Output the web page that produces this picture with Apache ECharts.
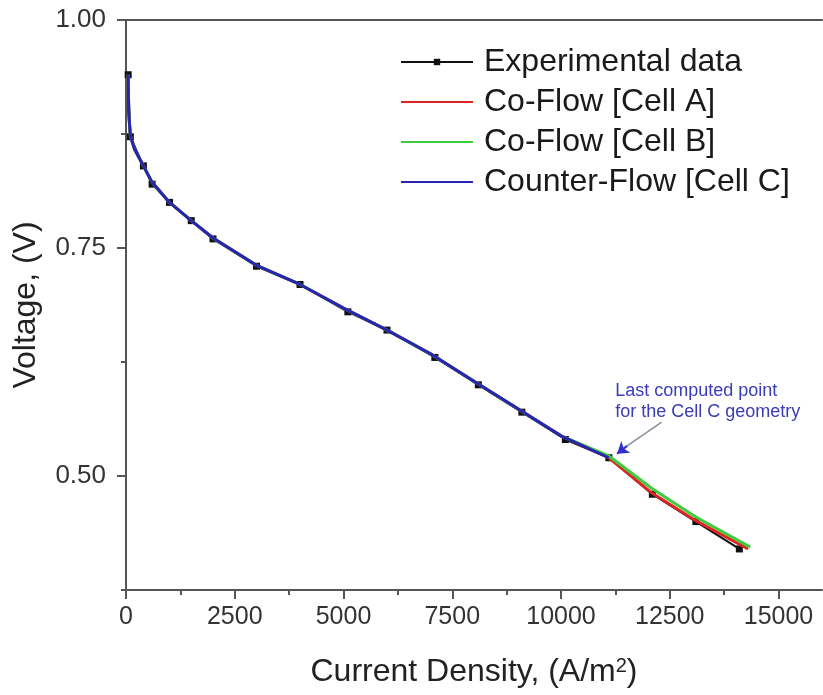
<!DOCTYPE html>
<html><head><meta charset="utf-8">
<script src="https://cdn.jsdelivr.net/npm/echarts@6/dist/echarts.min.js"></script>
<style>html,body{margin:0;padding:0;background:#fff}#c{width:823px;height:695px}</style>
</head><body><div id="c"></div>
<script>
// ---- data ----
const expX  = [50, 100, 400, 600, 1000, 1500, 2000, 3000, 4000, 5100, 6000, 7100, 8100, 9100, 10100, 11100, 12100, 13100, 14100];
const expV  = [0.94, 0.872, 0.84, 0.82, 0.80, 0.78, 0.76, 0.73, 0.71, 0.68, 0.66, 0.63, 0.60, 0.57, 0.54, 0.52, 0.48, 0.45, 0.42];

const cellCX = [50, 60, 100, 200, 400, 600, 1000, 1500, 2000, 3000, 4000, 5000, 6000, 7000, 8000, 9000, 10000, 11100];
const cellCV = [0.94, 0.90, 0.873, 0.858, 0.84, 0.822, 0.80, 0.78, 0.761, 0.731, 0.71, 0.684, 0.66, 0.634, 0.604, 0.574, 0.544, 0.52];

const cellAX = [50, 60, 100, 200, 400, 600, 1000, 1500, 2000, 3000, 4000, 5000, 6000, 7000, 8000, 9000, 10000, 11100, 12100, 13100, 14300];
const cellAV = [0.94, 0.90, 0.873, 0.858, 0.84, 0.822, 0.80, 0.78, 0.761, 0.731, 0.71, 0.684, 0.66, 0.634, 0.604, 0.574, 0.544, 0.52, 0.481, 0.451, 0.42];

const cellBX = [50, 60, 100, 200, 400, 600, 1000, 1500, 2000, 3000, 4000, 5000, 6000, 7000, 8000, 9000, 10000, 11100, 12100, 13100, 14350];
const cellBV = [0.94, 0.90, 0.873, 0.858, 0.84, 0.822, 0.80, 0.78, 0.761, 0.731, 0.71, 0.684, 0.66, 0.634, 0.604, 0.574, 0.544, 0.522, 0.486, 0.455, 0.422];

const seriesNames = ['Experimental data', 'Co-Flow [Cell A]', 'Co-Flow [Cell B]', 'Counter-Flow [Cell C]'];
const xMajorTicks = [0, 2500, 5000, 7500, 10000, 12500, 15000];
const xMinorTicks = [1250, 3750, 6250, 8750, 11250, 13750];
const yMajorTicks = [0.5, 0.75, 1.0];
const yMinorTicks = [0.375, 0.625, 0.875];
const noteText = 'Last computed point\nfor the Cell C geometry';

// ---- chart ----
const F = "'Liberation Sans', Arial, sans-serif";
const AX = '#555';
const pairs = (xs, vs) => xs.map((x, i) => [x, vs[i]]);
const chart = echarts.init(document.getElementById('c'), null, {renderer: 'canvas'});

const baseX = {type: 'value', min: 0, max: 16000, splitLine: {show: false}};
const baseY = {type: 'value', min: 0.375, max: 1.0, splitLine: {show: false}};

const option = {
  animation: false,
  backgroundColor: '#fff',
  grid: {left: 126, right: 1, top: 20, bottom: 104},
  legend: {
    left: 400, top: 42, orient: 'vertical', padding: 0,
    itemWidth: 72, itemHeight: 8, itemGap: 0,
    lineStyle: {width: 2},
    textStyle: {fontSize: 32, color: '#1a1a1a', fontFamily: F, lineHeight: 40, padding: [0, 0, 0, 6]},
    data: [
      {name: seriesNames[0]},
      {name: seriesNames[1], itemStyle: {opacity: 0}},
      {name: seriesNames[2], itemStyle: {opacity: 0}},
      {name: seriesNames[3], itemStyle: {opacity: 0}}
    ]
  },
  xAxis: [
    Object.assign({}, baseX, {
      position: 'bottom',
      axisLine: {lineStyle: {color: AX, width: 2}},
      axisTick: {customValues: xMajorTicks, length: 9, lineStyle: {color: AX, width: 2}},
      axisLabel: {customValues: xMajorTicks, fontSize: 25, color: '#333', margin: 15, fontFamily: F,
        formatter: v => String(v)},
      name: 'Current Density, (A/m{sup|2})',
      nameLocation: 'middle', nameGap: 66,
      nameTextStyle: {fontSize: 32, color: '#222', fontFamily: F,
        rich: {sup: {fontSize: 20, verticalAlign: 'top', lineHeight: 20, padding: [0, 0, 14, 0]}}}
    }),
    Object.assign({}, baseX, {
      position: 'bottom',
      axisLine: {show: false},
      axisTick: {customValues: xMinorTicks, length: 5, lineStyle: {color: AX, width: 2}},
      axisLabel: {show: false}
    }),
    Object.assign({}, baseX, {
      position: 'top',
      axisLine: {lineStyle: {color: AX, width: 2}},
      axisTick: {show: false},
      axisLabel: {show: false}
    })
  ],
  yAxis: [
    Object.assign({}, baseY, {
      position: 'left',
      axisLine: {lineStyle: {color: AX, width: 2}},
      axisTick: {customValues: yMajorTicks, length: 9, lineStyle: {color: AX, width: 2}},
      axisLabel: {customValues: yMajorTicks, fontSize: 26, color: '#333', margin: 20, fontFamily: F,
        formatter: v => v.toFixed(2)},
      name: 'Voltage, (V)', nameLocation: 'middle', nameGap: 84, nameRotate: 90,
      nameTextStyle: {fontSize: 32, color: '#222', fontFamily: F}
    }),
    Object.assign({}, baseY, {
      position: 'left',
      axisLine: {show: false},
      axisTick: {customValues: yMinorTicks, length: 5, lineStyle: {color: AX, width: 2}},
      axisLabel: {show: false}
    })
  ],
  series: [
    {
      name: seriesNames[0], type: 'line', data: pairs(expX, expV),
      symbol: 'rect', symbolSize: 7, showSymbol: true,
      itemStyle: {color: '#111'}, lineStyle: {color: '#111', width: 2}, z: 2
    },
    {
      name: seriesNames[1], type: 'line', data: pairs(cellAX, cellAV),
      symbol: 'none', itemStyle: {color: '#e02424'}, lineStyle: {color: '#e02424', width: 3}, z: 3
    },
    {
      name: seriesNames[2], type: 'line', data: pairs(cellBX, cellBV),
      symbol: 'none', itemStyle: {color: '#3ccc3c'}, lineStyle: {color: '#3ccc3c', width: 3}, z: 4
    },
    {
      name: seriesNames[3], type: 'line', data: pairs(cellCX, cellCV),
      symbol: 'none', itemStyle: {color: '#2626b0'}, lineStyle: {color: '#2626b0', width: 3}, z: 5,
      markPoint: {
        silent: true,
        data: [{
          coord: [11234, 0.5813], symbol: 'rect', symbolSize: 1,
          itemStyle: {color: 'rgba(0,0,0,0)'},
          label: {show: true, position: 'right', distance: 0, formatter: noteText,
            color: '#3b3bb8', fontSize: 18, lineHeight: 21, align: 'left', fontFamily: F}
        }]
      },
      markLine: {
        silent: true, animation: false,
        label: {show: false},
        data: [
          [{coord: [12313, 0.559], symbol: 'none', lineStyle: {color: '#8c8c9c', width: 1.5, type: 'solid'}},
           {coord: [11520, 0.533], symbol: 'none'}],
          [{coord: [11520, 0.533], symbol: 'none', lineStyle: {color: '#2f2fd0', width: 2, type: 'solid'}},
           {coord: [11290, 0.5245], symbol: 'arrow', symbolSize: 11}]
        ]
      }
    }
  ]
};
chart.setOption(option);
</script>
</body></html>
